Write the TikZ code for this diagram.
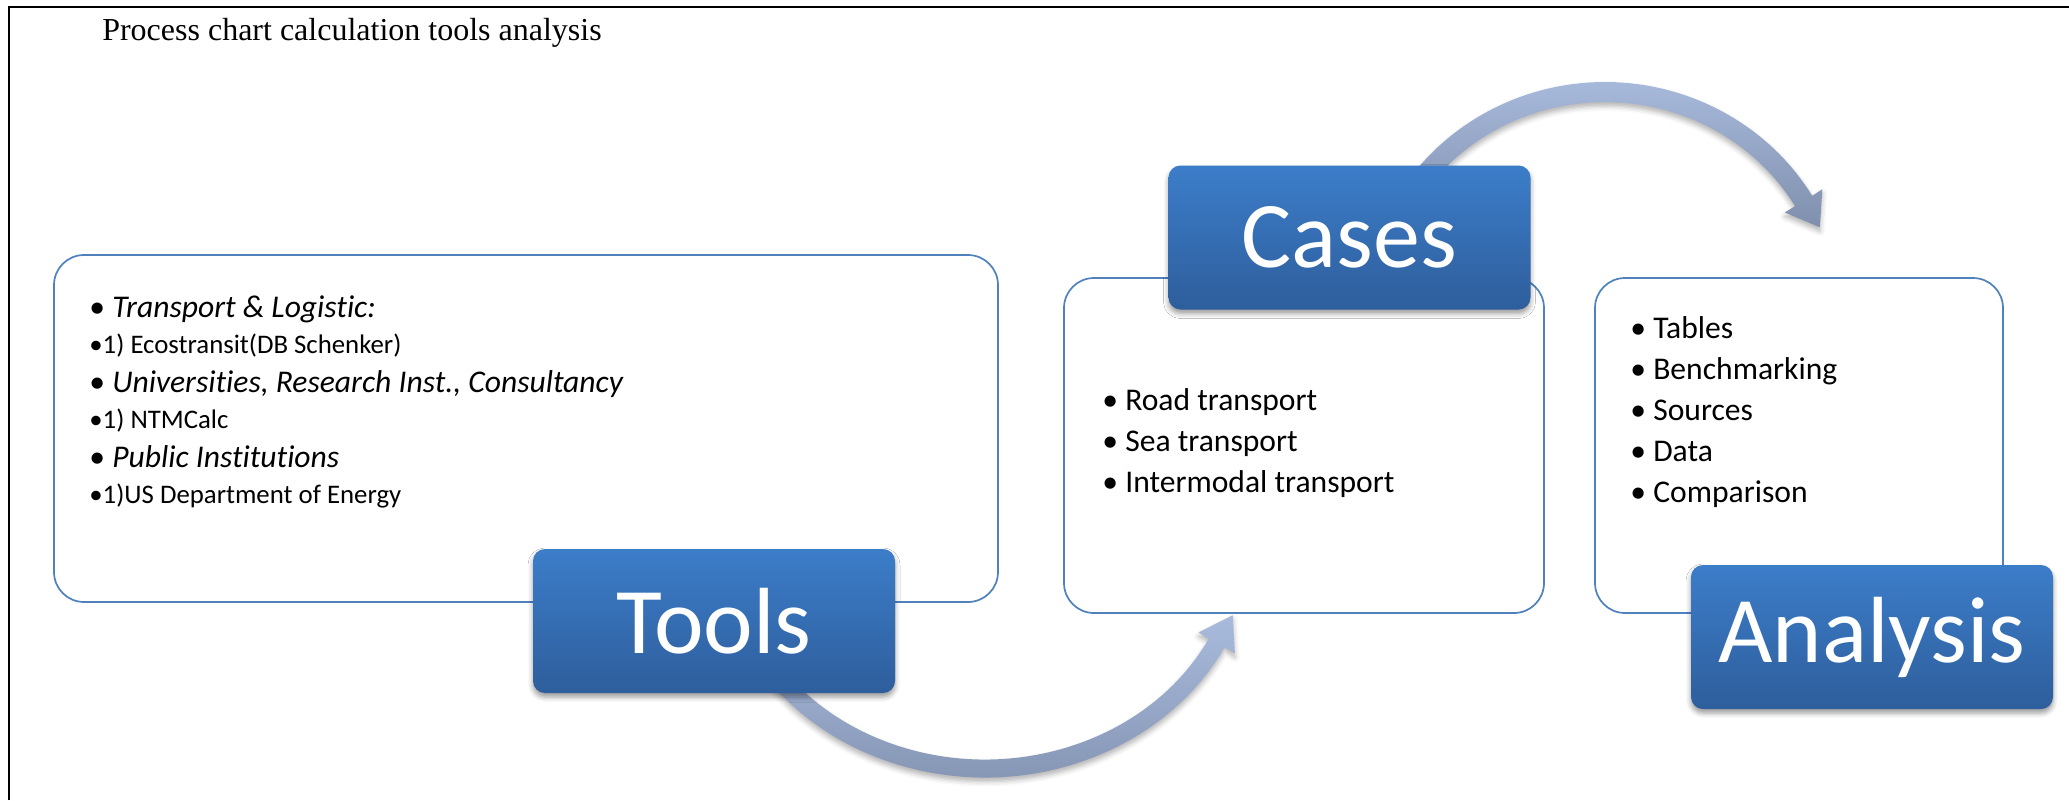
\documentclass[tikz,border=0pt]{standalone}
\usepackage{fontspec}
\setmainfont{Carlito}[Ligatures=NoCommon]
\newfontfamily\titlefont{Liberation Serif}
\usetikzlibrary{calc,shadows.blur}
\definecolor{boxline}{HTML}{4F81BD}
\definecolor{labeltop}{HTML}{3C7DC9}
\definecolor{labelbottom}{HTML}{2E5E9C}
\definecolor{arrowlight}{HTML}{A9BBDD}
\definecolor{arrowdark}{HTML}{7F8FAD}
\tikzset{
  contentbox/.style={draw=boxline,line width=0.85pt,fill=white,rounded corners=15pt,inner sep=0pt},
  labelbox/.style={rounded corners=6pt,top color=labeltop,bottom color=labelbottom,
    minimum width=181pt,minimum height=72pt,inner sep=0pt,text=white,
    font=\fontsize{47}{50}\selectfont,
    blur shadow={shadow xshift=0pt,shadow yshift=-2pt,shadow blur radius=2.5pt,shadow opacity=40}},
  item/.style={anchor=base west,inner sep=0pt,font=\fontsize{15.8}{18}\selectfont},
  subitem/.style={item,font=\fontsize{13.4}{16}\selectfont},
  bentarrow/.style={top color=arrowlight,bottom color=arrowdark,
    blur shadow={shadow xshift=0pt,shadow yshift=-2pt,shadow blur radius=2.5pt,shadow opacity=30}}
}

\begin{document}
\begin{tikzpicture}[x=0.5pt,y=0.5pt]
  \useasboundingbox (0,0) rectangle (2069,-800);
  % frame and heading
  \draw[line width=1.25pt] (9,-800) -- (9,-7) -- (2069,-7);
  \node[anchor=base,inner sep=0pt,font=\titlefont\fontsize{16}{19}\selectfont] (title) at (352,-40)
       {Process chart calculation tools analysis};
  % content boxes
  \node[contentbox,minimum width=472pt,minimum height=173.5pt] (toolsbox) at (526,-428.5) {};
  \node[contentbox,minimum width=240pt,minimum height=167.5pt] (casesbox) at (1304,-445.5) {};
  \node[contentbox,minimum width=204pt,minimum height=167.5pt] (analysisbox) at (1799,-445.5) {};
  % tools list
  \node[item]    (tl1) at (89,-317) {• \textit{Transport \& Logistic:}};
  \node[subitem] (tl2) at (89,-353) {•1) Ecostransit(DB Schenker)};
  \node[item]    (tl3) at (89,-392) {• \textit{Universities, Research Inst., Consultancy}};
  \node[subitem] (tl4) at (89,-428) {•1) NTMCalc};
  \node[item]    (tl5) at (89,-467) {• \textit{Public Institutions}};
  \node[subitem] (tl6) at (89,-503) {•1)US Department of Energy};
  % cases list
  \node[item] (cl1) at (1102,-410) {• Road transport};
  \node[item] (cl2) at (1102,-451) {• Sea transport};
  \node[item] (cl3) at (1102,-492) {• Intermodal transport};
  % analysis list
  \node[item] (al1) at (1630,-338) {• Tables};
  \node[item] (al2) at (1630,-379) {• Benchmarking};
  \node[item] (al3) at (1630,-420) {• Sources};
  \node[item] (al4) at (1630,-461) {• Data};
  \node[item] (al5) at (1630,-502) {• Comparison};
  % curved arrows, tools -> cases and cases -> analysis
  \coordinate (lowc) at (985,-538.5);
  \path[bentarrow] ($(lowc)+(210:269 and 239)$)
        arc[start angle=210,end angle=333,x radius=269,y radius=239]
        -- (1234.9,-653.4) -- (1232.7,-615.2) -- (1198.5,-632.4)
        -- ($(lowc)+(333:251 and 221)$)
        arc[start angle=333,end angle=210,x radius=251,y radius=221] -- cycle;
  \coordinate (highc) at (1605,-316.5);
  \path[bentarrow] ($(highc)+(145:241.7 and 234.5)$)
        arc[start angle=145,end angle=31,x radius=241.7,y radius=234.5]
        -- (1822.3,-189.3) -- (1819.9,-227.3) -- (1784.9,-212.5)
        -- ($(highc)+(31:221.7 and 214.5)$)
        arc[start angle=31,end angle=145,x radius=221.7,y radius=214.5] -- cycle;
  % step labels
  \node[labelbox] (tools) at (714,-621) {Tools};
  \node[labelbox] (cases) at (1349.5,-237.5) {Cases};
  \node[labelbox] (analysis) at (1872,-637) {Analysis};
\end{tikzpicture}
\end{document}
